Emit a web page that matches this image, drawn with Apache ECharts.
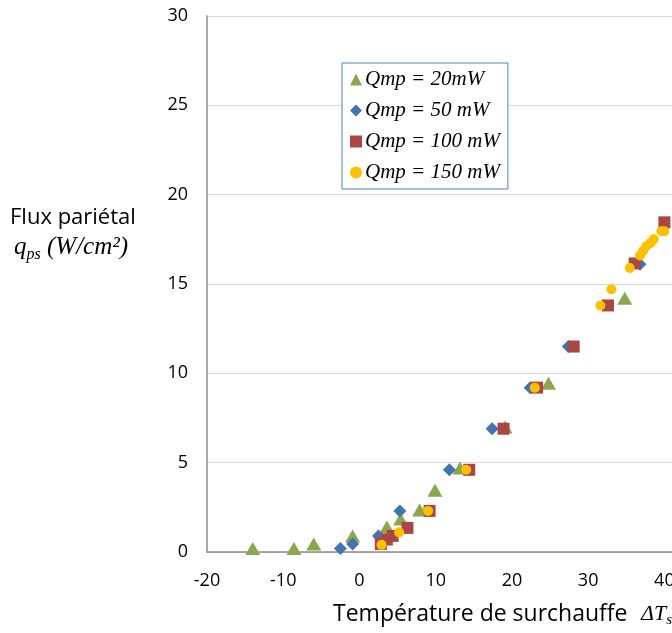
<!DOCTYPE html>
<html>
<head>
<meta charset="utf-8">
<script src="https://cdn.jsdelivr.net/npm/echarts@6/dist/echarts.min.js"></script>
<style>html,body{margin:0;padding:0;background:#fff}#c{width:672px;height:633px}</style>
</head>
<body>
<div id="c"></div>
<script>
// Qmp = 20 mW (triangles)
const x20 = [-14.0, -8.6, -6.0, -0.9, 3.6, 5.4, 7.9, 9.9, 13.2, 19.1, 24.8, 34.8];
const y20 = [0.2, 0.2, 0.45, 0.9, 1.4, 1.85, 2.35, 3.45, 4.7, 7.0, 9.45, 14.2];
// Qmp = 50 mW (diamonds)
const x50 = [-2.5, -0.9, 2.5, 5.3, 11.8, 17.4, 22.4, 27.4, 36.8];
const y50 = [0.2, 0.45, 0.9, 2.3, 4.6, 6.9, 9.2, 11.5, 16.1];
// Qmp = 100 mW (squares)
const x100 = [2.8, 3.6, 4.35, 6.3, 9.2, 14.4, 18.9, 23.3, 28.1, 32.6, 36.1, 40.0];
const y100 = [0.45, 0.7, 0.9, 1.35, 2.3, 4.6, 6.9, 9.2, 11.5, 13.8, 16.15, 18.45];
// Qmp = 150 mW (circles)
const x150 = [2.9, 5.2, 9.0, 14.0, 23.0, 31.6, 33.05, 35.45, 36.8, 37.2, 37.6, 38.2, 38.6, 39.6, 40.0];
const y150 = [0.4, 1.1, 2.3, 4.6, 9.2, 13.8, 14.7, 15.9, 16.6, 16.85, 17.1, 17.3, 17.5, 17.95, 17.95];

const seriesNames = ['Qmp = 20mW', 'Qmp = 50 mW', 'Qmp = 100 mW', 'Qmp = 150 mW'];
const xMin = -20, xMax = 41, xStep = 10;   // visible part of the x axis (cut at the right edge)
const yMin = 0, yMax = 30, yStep = 5;

const pair = (xs, ys) => xs.map((x, i) => [x, ys[i]]);

const sans = '"Open Sans", Lato, "Liberation Sans", Arial, sans-serif';
const serif = '"Liberation Serif", "Times New Roman", serif';

const chart = echarts.init(document.getElementById('c'), null, {renderer: 'canvas'});
chart.setOption({
  animation: false,
  backgroundColor: '#ffffff',
  grid: {left: 207, top: 16, bottom: 81, right: 0, containLabel: false, outerBoundsMode: 'none'},
  xAxis: {
    type: 'value', min: xMin, max: xMax, interval: xStep,
    axisLine: {show: true, onZero: false, lineStyle: {color: '#8c8c8c', width: 1.5}},
    axisTick: {show: false},
    splitLine: {show: false},
    axisLabel: {color: '#000', fontFamily: sans, fontSize: 18, margin: 20, showMaxLabel: false}
  },
  yAxis: {
    type: 'value', min: yMin, max: yMax, interval: yStep,
    axisLine: {show: true, onZero: false, lineStyle: {color: '#8c8c8c', width: 1.5}},
    axisTick: {show: false},
    splitLine: {show: true, lineStyle: {color: '#d9d9d9', width: 1}},
    axisLabel: {color: '#000', fontFamily: sans, fontSize: 18, margin: 19}
  },
  legend: {
    orient: 'vertical', left: 342, top: 63,
    backgroundColor: '#fff',
    borderColor: '#4f81bd', borderWidth: 1, borderRadius: 0,
    padding: [6, 8, 6, 8], itemGap: 10, itemWidth: 12, itemHeight: 12,
    textStyle: {fontFamily: serif, fontStyle: 'italic', fontSize: 21, color: '#000', padding: [0, 0, 0, -2]},
    data: seriesNames
  },
  series: [
    {name: seriesNames[0], type: 'scatter', symbol: 'triangle', symbolSize: [15, 13], z: 2,
     itemStyle: {color: '#8aa64e', opacity: 1}, data: pair(x20, y20)},
    {name: seriesNames[1], type: 'scatter', symbol: 'diamond', symbolSize: 13, z: 3,
     itemStyle: {color: '#4572b0', opacity: 1}, data: pair(x50, y50)},
    {name: seriesNames[2], type: 'scatter', symbol: 'rect', symbolSize: 12, z: 4,
     itemStyle: {color: '#aa4643', opacity: 1}, data: pair(x100, y100)},
    {name: seriesNames[3], type: 'scatter', symbol: 'circle', symbolSize: 10, z: 5,
     itemStyle: {color: '#ffc000', opacity: 1}, data: pair(x150, y150)}
  ],
  graphic: [
    {type: 'text', left: 10, top: 207, style: {text: 'Flux pariétal', font: '22px ' + sans, fill: '#000'}},
    {type: 'text', left: 14, top: 235, style: {
      text: '{q|q}{s|ps}{r| (W/cm²)}', fill: '#000',
      rich: {
        q: {fontFamily: serif, fontStyle: 'italic', fontSize: 25, lineHeight: 30},
        s: {fontFamily: serif, fontStyle: 'italic', fontSize: 16, verticalAlign: 'bottom', lineHeight: 23},
        r: {fontFamily: serif, fontStyle: 'italic', fontSize: 25, lineHeight: 30}
      }}},
    {type: 'text', left: 333, top: 603, style: {text: 'Température de surchauffe', font: '23px ' + sans, fill: '#000'}},
    {type: 'text', left: 641, top: 603, style: {
      text: '{b|ΔT}{c|sat}', fill: '#000',
      rich: {
        b: {fontFamily: serif, fontStyle: 'italic', fontSize: 22, lineHeight: 28},
        c: {fontFamily: serif, fontStyle: 'italic', fontSize: 15, verticalAlign: 'bottom', lineHeight: 21}
      }}}
  ]
});
</script>
</body>
</html>
